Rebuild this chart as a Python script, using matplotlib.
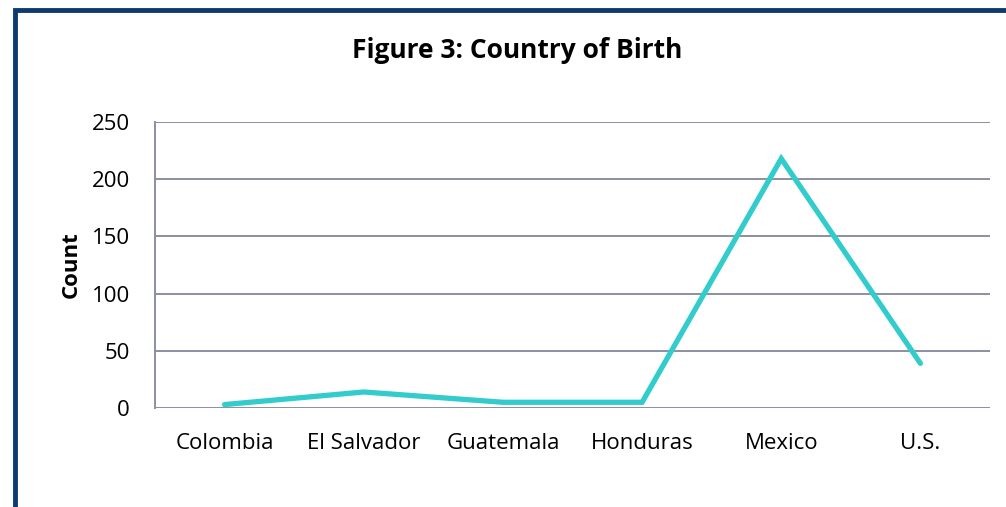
import matplotlib
matplotlib.use("Agg")
import matplotlib.pyplot as plt
from matplotlib.patches import Rectangle

# data
countries = ["Colombia", "El Salvador", "Guatemala", "Honduras", "Mexico", "U.S."]
counts = [3, 14, 5, 5, 218, 39]
y_ticks = [0, 50, 100, 150, 200, 250]

plt.rcParams['font.family'] = ['Open Sans', 'DejaVu Sans']

W, H = 1006, 507
fig = plt.figure(figsize=(W / 100, H / 100), dpi=100)

# navy frame, cropped at right and bottom
fig.patches.append(Rectangle((15 / W, -0.1), 1.2, 1 - 10 / H + 0.1,
                             transform=fig.transFigure, fill=False,
                             edgecolor='#0E3B6F', linewidth=3.5))

ax = fig.add_axes([155 / W, 1 - 408 / H, (990 - 155) / W, (408 - 122) / H])
x = range(len(countries))
ax.plot(x, counts, color='#33CCCC', linewidth=3.8, solid_capstyle='round',
        solid_joinstyle='miter')

ax.set_xlim(-0.5, len(countries) - 0.5)
ax.set_ylim(0, 250)
ax.set_yticks(y_ticks)
ax.set_xticks(list(x))
ax.set_xticklabels(countries)
ax.tick_params(axis='both', length=0, labelsize=16, colors='black')
ax.tick_params(axis='y', pad=18)
ax.tick_params(axis='x', pad=18)
ax.grid(axis='y', color='#8C8FA0', linewidth=1.4)
ax.set_axisbelow(True)
for s in ['top', 'right', 'bottom']:
    ax.spines[s].set_visible(False)
ax.spines['left'].set_color('#8C8FA0')
ax.spines['left'].set_linewidth(1.4)

ax.set_ylabel("Count", fontsize=16, fontweight='bold', labelpad=7)
fig.text(517 / W, 1 - 51 / H, "Figure 3: Country of Birth", ha='center', va='center',
         fontsize=19, fontweight='bold')

fig.savefig("out.png", dpi=100)
